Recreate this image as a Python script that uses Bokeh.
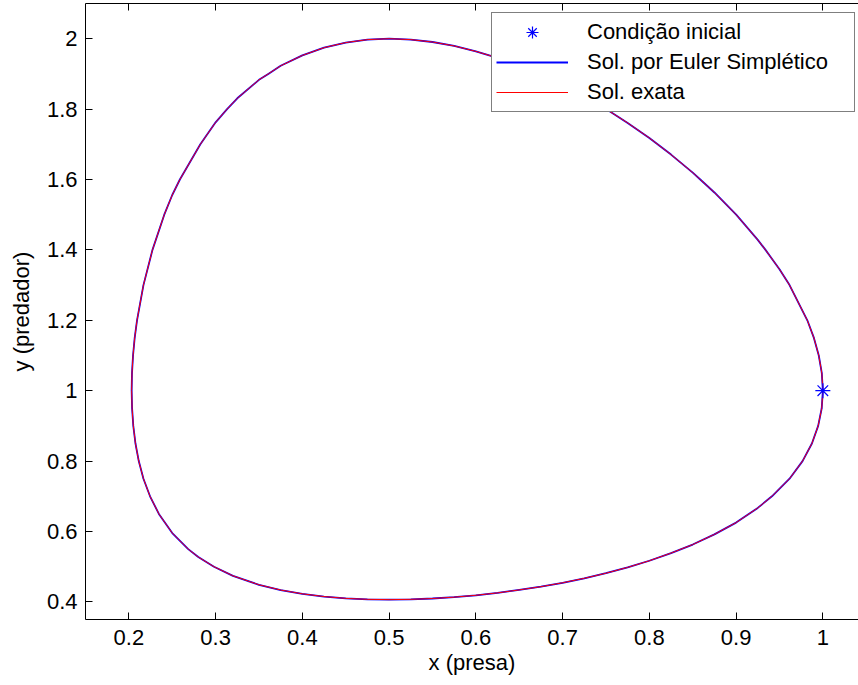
from bokeh.plotting import figure
from bokeh.models import LinearAxis, FixedTicker, Legend, LegendItem, Range1d
from bokeh.embed import file_html
from bokeh.resources import INLINE

# ---- data (closed orbit, traced counter-clockwise from (1, 1)) ----
exact_x = [1.0, 0.9988, 0.9953, 0.9897, 0.9821, 0.9616, 0.95, 0.9339, 0.925, 0.9001,
           0.875, 0.8587, 0.85, 0.825, 0.8, 0.775, 0.7501, 0.725, 0.7, 0.675,
           0.65, 0.625, 0.6, 0.575, 0.55, 0.525, 0.5, 0.475, 0.45, 0.425,
           0.4, 0.375, 0.3607, 0.35, 0.325, 0.3132, 0.3, 0.2824, 0.2588, 0.25,
           0.2408, 0.2272, 0.2168, 0.2094, 0.2067, 0.2048, 0.2036, 0.2032, 0.2037, 0.2051,
           0.2076, 0.2114, 0.2168, 0.2244, 0.2346, 0.25, 0.2684, 0.28, 0.2981, 0.32,
           0.35, 0.375, 0.4, 0.425, 0.45, 0.475, 0.5, 0.525, 0.55, 0.575,
           0.6, 0.625, 0.65, 0.675, 0.7, 0.725, 0.75, 0.775, 0.8, 0.825,
           0.85, 0.875, 0.9, 0.925, 0.9413, 0.9616, 0.9766, 0.9874, 0.9946, 0.9987,
           1.0]
exact_y = [1.0, 1.05, 1.1, 1.15, 1.2, 1.3, 1.3451, 1.4, 1.4285, 1.5,
           1.5631, 1.6, 1.6195, 1.6708, 1.718, 1.7608, 1.8, 1.8358, 1.8685, 1.8976,
           1.9232, 1.9454, 1.964, 1.9794, 1.9906, 1.9974, 2.0, 1.9974, 1.989, 1.9745,
           1.9525, 1.923, 1.9, 1.8832, 1.8308, 1.8, 1.7624, 1.7, 1.6, 1.556,
           1.5, 1.4, 1.3, 1.2, 1.15, 1.1, 1.05, 1.0, 0.95, 0.9,
           0.85, 0.8, 0.75, 0.7, 0.65, 0.5957, 0.55, 0.5274, 0.5, 0.474,
           0.4486, 0.4337, 0.4229, 0.4152, 0.41, 0.4073, 0.4064, 0.4073, 0.4096, 0.4135,
           0.4188, 0.4256, 0.4341, 0.4432, 0.4543, 0.467, 0.4815, 0.4981, 0.5169, 0.5387,
           0.5629, 0.5918, 0.6253, 0.667, 0.7, 0.75, 0.8, 0.85, 0.9, 0.95,
           1.0]
# Euler symplectic solution is indistinguishable from the exact one at this scale
euler_x = list(exact_x)
euler_y = list(exact_y)

initial_x = [1.0]
initial_y = [1.0]

x_ticks = [0.2, 0.3, 0.4, 0.5, 0.6, 0.7, 0.8, 0.9, 1.0]
x_tick_labels = ["0.2", "0.3", "0.4", "0.5", "0.6", "0.7", "0.8", "0.9", "1"]
y_ticks = [0.4, 0.6, 0.8, 1.0, 1.2, 1.4, 1.6, 1.8, 2.0]
y_tick_labels = ["0.4", "0.6", "0.8", "1", "1.2", "1.4", "1.6", "1.8", "2"]

FONT = "Liberation Sans"
FS = "22px"

p = figure(width=858, height=685, output_backend="svg", toolbar_location=None,
           x_axis_location=None, y_axis_location=None,
           min_border_left=85, min_border_right=0, min_border_top=3, min_border_bottom=66)
p.x_range = Range1d(0.15, 1.0411)
p.y_range = Range1d(0.35, 2.1)
p.outline_line_color = None
p.xgrid.visible = False
p.ygrid.visible = False
p.background_fill_color = "white"
p.border_fill_color = "white"


def style_axis(ax, labels=True):
    ax.major_tick_in = 7
    ax.major_tick_out = 0
    ax.minor_tick_line_color = None
    ax.axis_line_color = "black"
    ax.major_tick_line_color = "black"
    ax.major_label_text_font = FONT
    ax.axis_label_text_font = FONT
    ax.axis_label_text_font_style = "normal"
    ax.axis_label_text_font_size = FS
    ax.axis_label_text_color = "black"
    if labels:
        ax.major_label_text_font_size = FS
        ax.major_label_text_color = "black"
    else:
        ax.major_label_text_font_size = "1px"
        ax.major_label_text_color = None
        ax.major_label_standoff = 0


xaxis = LinearAxis(axis_label="x (presa)",
                   ticker=FixedTicker(ticks=x_ticks),
                   major_label_overrides={t: l for t, l in zip(x_ticks, x_tick_labels)})
style_axis(xaxis)
xaxis.major_label_standoff = 10
xaxis.axis_label_standoff = 2
p.add_layout(xaxis, "below")

yaxis = LinearAxis(axis_label="y (predador)",
                   ticker=FixedTicker(ticks=y_ticks),
                   major_label_overrides={t: l for t, l in zip(y_ticks, y_tick_labels)})
style_axis(yaxis)
yaxis.major_label_standoff = 8
yaxis.axis_label_standoff = 10
p.add_layout(yaxis, "left")

top_axis = LinearAxis(ticker=FixedTicker(ticks=x_ticks))
style_axis(top_axis, labels=False)
p.add_layout(top_axis, "above")

r_blue = p.line(euler_x, euler_y, line_color="#0000ff", line_width=1.8, line_join="round")
r_red = p.line(exact_x, exact_y, line_color="#ff0000", line_width=1, line_join="round")
r_star = p.scatter(initial_x, initial_y, marker="asterisk", size=15,
                   line_color="#0000ff", line_width=1.2)

legend = Legend(items=[
    LegendItem(label="Condição inicial", renderers=[r_star]),
    LegendItem(label="Sol. por Euler Simplético", renderers=[r_blue]),
    LegendItem(label="Sol. exata", renderers=[r_red]),
], location=(406, 507))
legend.label_text_font = FONT
legend.label_text_font_size = FS
legend.label_text_color = "black"
legend.border_line_color = "black"
legend.border_line_width = 1
legend.background_fill_color = "white"
legend.background_fill_alpha = 1.0
legend.padding = 4
legend.spacing = 0
legend.margin = 0
legend.glyph_width = 72
legend.glyph_height = 30
legend.label_height = 30
legend.label_standoff = 19
legend.label_width = 263
p.add_layout(legend, "center")

open("out.html", "w").write(file_html(p, INLINE))
